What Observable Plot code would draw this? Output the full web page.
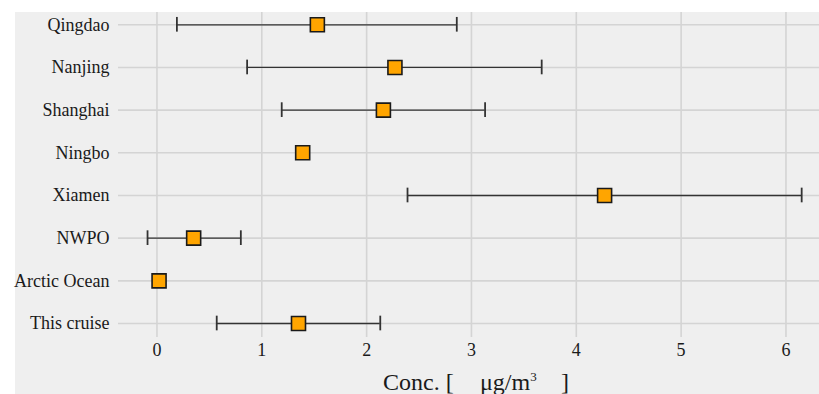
<!DOCTYPE html>
<html>
<head>
<meta charset="utf-8">
<script src="https://cdn.jsdelivr.net/npm/d3@7"></script>
<script src="https://cdn.jsdelivr.net/npm/@observablehq/plot@0.6"></script>
<style>
  html, body { margin: 0; padding: 0; background: #ffffff; }
  #chart svg { display: block; }
</style>
</head>
<body>
<div id="chart"></div>
<script>
// ---- data ----
const sites = ["Qingdao", "Nanjing", "Shanghai", "Ningbo", "Xiamen", "NWPO", "Arctic Ocean", "This cruise"];
const means = [1.53, 2.27, 2.16, 1.39, 4.27, 0.35, 0.02, 1.35];
const lows  = [0.19, 0.86, 1.19, null, 2.39, -0.09, null, 0.57];
const highs = [2.86, 3.67, 3.13, null, 6.15, 0.80, null, 2.13];
const xTicks = [0, 1, 2, 3, 4, 5, 6];

const rows = sites.map((s, i) => ({site: s, idx: i, mean: means[i], low: lows[i], high: highs[i]}));
const errRows = rows.filter(d => d.low != null);
const capHalf = 0.172; // half cap length in row units

const W = 819, H = 394;
const gridColor = "#d4d4d4";
const FONT = "'Liberation Serif', 'DejaVu Serif', serif";

const plot = Plot.plot({
  width: W,
  height: H,
  marginLeft: 118,
  marginRight: 0,
  marginTop: 12,
  marginBottom: 57,
  style: {fontFamily: FONT, fontSize: "18px", color: "#1a1a1a", background: "transparent"},
  x: {domain: [-0.367, 6.32]},
  y: {type: "linear", domain: [-0.288, 7.328], reverse: true},
  marks: [
    Plot.ruleX(xTicks, {x: d => d, stroke: gridColor, strokeWidth: 1.6}),
    Plot.ruleY(rows, {y: "idx", stroke: gridColor, strokeWidth: 1.6}),
    Plot.ruleY(errRows, {y: "idx", x1: "low", x2: "high", stroke: "#333333", strokeWidth: 1.3}),
    Plot.ruleX(errRows, {x: "low", y1: d => d.idx - capHalf, y2: d => d.idx + capHalf, stroke: "#333333", strokeWidth: 1.8}),
    Plot.ruleX(errRows, {x: "high", y1: d => d.idx - capHalf, y2: d => d.idx + capHalf, stroke: "#333333", strokeWidth: 1.8}),
    Plot.dot(rows, {x: "mean", y: "idx", symbol: "square", r: 7.9, fill: "#FFA500", stroke: "#1a1a1a", strokeWidth: 1.6}),
    Plot.axisY({ticks: rows.map(d => d.idx), tickFormat: i => sites[i], tickSize: 0, tickPadding: 9, label: null, fill: "#1a1a1a", fontSize: 18}),
    Plot.axisX({ticks: xTicks, tickSize: 0, tickPadding: 6, label: null, tickFormat: d3.format("d"), fill: "#1a1a1a", fontSize: 18})
  ]
});

const svg = d3.select(plot);
// panel background
svg.insert("rect", ":first-child")
  .attr("x", 15).attr("y", 12)
  .attr("width", W - 15).attr("height", H - 12)
  .attr("fill", "#efefef");

// axis title
const t = svg.append("text")
  .attr("y", 390)
  .attr("text-anchor", "start")
  .attr("font-size", 24)
  .attr("fill", "#1a1a1a")
  .attr("font-family", FONT);
t.append("tspan").attr("x", 383).text("Conc. [");
t.append("tspan").attr("x", 480).text("μg/m");
t.append("tspan").attr("font-size", 13).attr("dy", -9).text("3");
t.append("tspan").attr("x", 561).attr("dy", 9).text("]");

document.getElementById("chart").appendChild(plot);
</script>
</body>
</html>
